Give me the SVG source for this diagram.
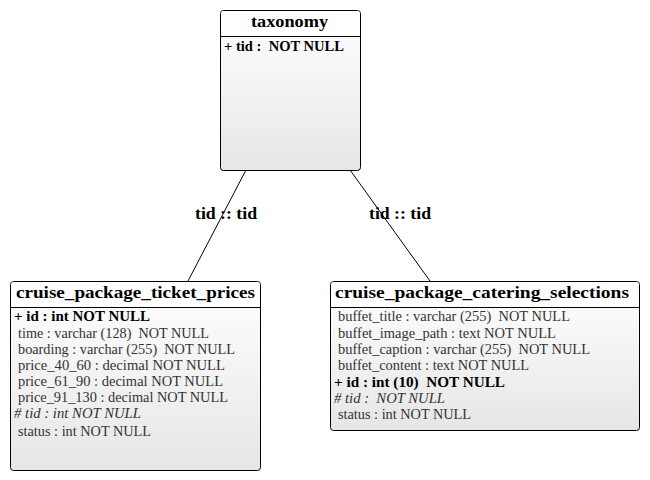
<svg xmlns="http://www.w3.org/2000/svg" width="650" height="480" viewBox="0 0 650 480" xml:space="preserve">
<defs>
<linearGradient id="g" x1="0" y1="0" x2="0" y2="1">
<stop offset="0" stop-color="#ffffff"/>
<stop offset="1" stop-color="#e6e6e6"/>
</linearGradient>
<style>
text{white-space:pre}
.box{fill:url(#g);stroke:#000;stroke-width:1}
.hd{fill:#fff;stroke:none}
.sep{stroke:#000;stroke-width:1}
.t{font-family:"Liberation Serif","Times New Roman",serif;font-size:17px;font-weight:bold;fill:#000}
.r{font-family:"Liberation Serif","Times New Roman",serif;font-size:14px;fill:#333}
.b{font-weight:bold;fill:#000}
.i{font-style:italic}
.lbl{font-family:"Liberation Serif","Times New Roman",serif;font-size:16px;font-weight:bold;fill:#000}
.ln{stroke:#000;stroke-width:1;fill:none}
</style>
</defs>
<rect width="650" height="480" fill="#fff"/>
<g id="connectors">
<line class="ln" x1="246" y1="170" x2="188" y2="281"/>
<line class="ln" x1="350" y1="170" x2="430" y2="281"/>
<text class="lbl" x="195" y="219" textLength="62" lengthAdjust="spacingAndGlyphs">tid :: tid</text>
<text class="lbl" x="369" y="219" textLength="62" lengthAdjust="spacingAndGlyphs">tid :: tid</text>
</g>
<g id="taxonomy">
<rect class="box" x="220.5" y="10.5" width="140" height="160" rx="3"/>
<path class="hd" d="M221,36 V14 Q221,11 224,11 H357 Q360,11 360,14 V36 Z"/>
<line class="sep" x1="220.5" y1="36.5" x2="360.5" y2="36.5"/>
<text class="t" x="251" y="27" textLength="77" lengthAdjust="spacingAndGlyphs">taxonomy</text>
<text class="r b" x="224" y="51" textLength="120" lengthAdjust="spacingAndGlyphs">+ tid :  NOT NULL</text>
</g>
<g id="cruise_package_ticket_prices">
<rect class="box" x="10.5" y="281.5" width="250" height="189" rx="3"/>
<path class="hd" d="M11,307 V285 Q11,282 14,282 H257 Q260,282 260,285 V307 Z"/>
<line class="sep" x1="10.5" y1="307.5" x2="260.5" y2="307.5"/>
<text class="t" x="16" y="298" textLength="239" lengthAdjust="spacingAndGlyphs">cruise_package_ticket_prices</text>
<text class="r b" x="14" y="321" textLength="136" lengthAdjust="spacingAndGlyphs">+ id : int NOT NULL</text>
<text class="r" x="18" y="338" textLength="191" lengthAdjust="spacingAndGlyphs">time : varchar (128)  NOT NULL</text>
<text class="r" x="18" y="354" textLength="217" lengthAdjust="spacingAndGlyphs">boarding : varchar (255)  NOT NULL</text>
<text class="r" x="18" y="370" textLength="207" lengthAdjust="spacingAndGlyphs">price_40_60 : decimal NOT NULL</text>
<text class="r" x="18" y="386" textLength="205" lengthAdjust="spacingAndGlyphs">price_61_90 : decimal NOT NULL</text>
<text class="r" x="18" y="402" textLength="210" lengthAdjust="spacingAndGlyphs">price_91_130 : decimal NOT NULL</text>
<text class="r i" x="14" y="418" textLength="127" lengthAdjust="spacingAndGlyphs"># tid : int NOT NULL</text>
<text class="r" x="18" y="436" textLength="133" lengthAdjust="spacingAndGlyphs">status : int NOT NULL</text>
</g>
<g id="cruise_package_catering_selections">
<rect class="box" x="330.5" y="281.5" width="309" height="149" rx="3"/>
<path class="hd" d="M331,307 V285 Q331,282 334,282 H636 Q639,282 639,285 V307 Z"/>
<line class="sep" x1="330.5" y1="307.5" x2="639.5" y2="307.5"/>
<text class="t" x="335" y="298" textLength="294" lengthAdjust="spacingAndGlyphs">cruise_package_catering_selections</text>
<text class="r" x="338" y="321" textLength="232" lengthAdjust="spacingAndGlyphs">buffet_title : varchar (255)  NOT NULL</text>
<text class="r" x="338" y="338" textLength="218" lengthAdjust="spacingAndGlyphs">buffet_image_path : text NOT NULL</text>
<text class="r" x="338" y="354" textLength="252" lengthAdjust="spacingAndGlyphs">buffet_caption : varchar (255)  NOT NULL</text>
<text class="r" x="338" y="370" textLength="191" lengthAdjust="spacingAndGlyphs">buffet_content : text NOT NULL</text>
<text class="r b" x="334" y="387" textLength="171" lengthAdjust="spacingAndGlyphs">+ id : int (10)  NOT NULL</text>
<text class="r i" x="334" y="403" textLength="111" lengthAdjust="spacingAndGlyphs"># tid :  NOT NULL</text>
<text class="r" x="338" y="419" textLength="133" lengthAdjust="spacingAndGlyphs">status : int NOT NULL</text>
</g>
</svg>
